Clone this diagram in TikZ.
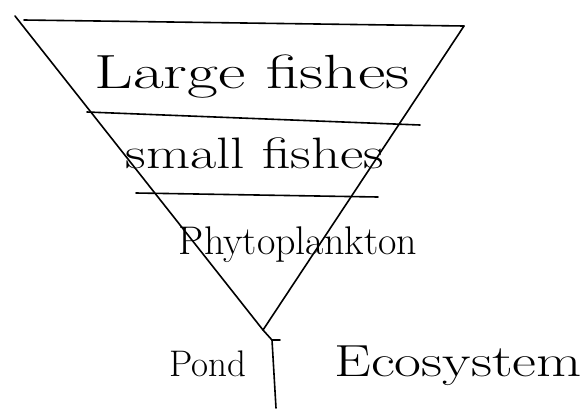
\documentclass[tikz,border=0pt]{standalone}
\usepackage{fontspec}
\setmainfont{Latin Modern Roman}
\begin{document}
\begin{tikzpicture}[x=1pt,y=-1pt,
  ink/.style={line width=1.6pt,black,line cap=round,line join=round},
  lbl/.style={inner sep=0pt,anchor=base}]
\useasboundingbox[fill=white] (0,0) rectangle (583,408);
% triangle corners
\coordinate (tl) at (15,16);
\coordinate (tla) at (24,20);
\coordinate (tr) at (464,26);
\coordinate (bot) at (263,330);
\draw[ink] (tl) -- (bot) -- (tr);
\draw[ink] (tla) -- (tr);
% level lines
\coordinate (l2a) at (87,112);
\coordinate (l2b) at (420,125);
\coordinate (l3a) at (136,193);
\coordinate (l3b) at (378,197);
\draw[ink] (l2a) -- (l2b);
\draw[ink] (l3a) -- (l3b);
% labels
\node[lbl,xscale=1.4,font=\fontsize{48}{52}\selectfont] (large) at (252,88) {Large fishes};
\node[lbl,xscale=1.3,font=\fontsize{44}{48}\selectfont] (small) at (255,168) {small fishes};
\node[lbl,font=\fontsize{40}{44}\selectfont] (phyto) at (298,254) {Phytoplankton};
\node[lbl,font=\fontsize{37}{40}\selectfont] (pond) at (208,376) {Pond};
\node[lbl,xscale=1.3,font=\fontsize{45}{48}\selectfont] (eco) at (458,376) {Ecosystem};
% bracket
\coordinate (b1) at (272,340);
\coordinate (b2) at (276,408);
\draw[ink] (bot) -- (b1) -- (b2);
\draw[ink] (b1) -- ++(8,0);
\end{tikzpicture}
\end{document}
